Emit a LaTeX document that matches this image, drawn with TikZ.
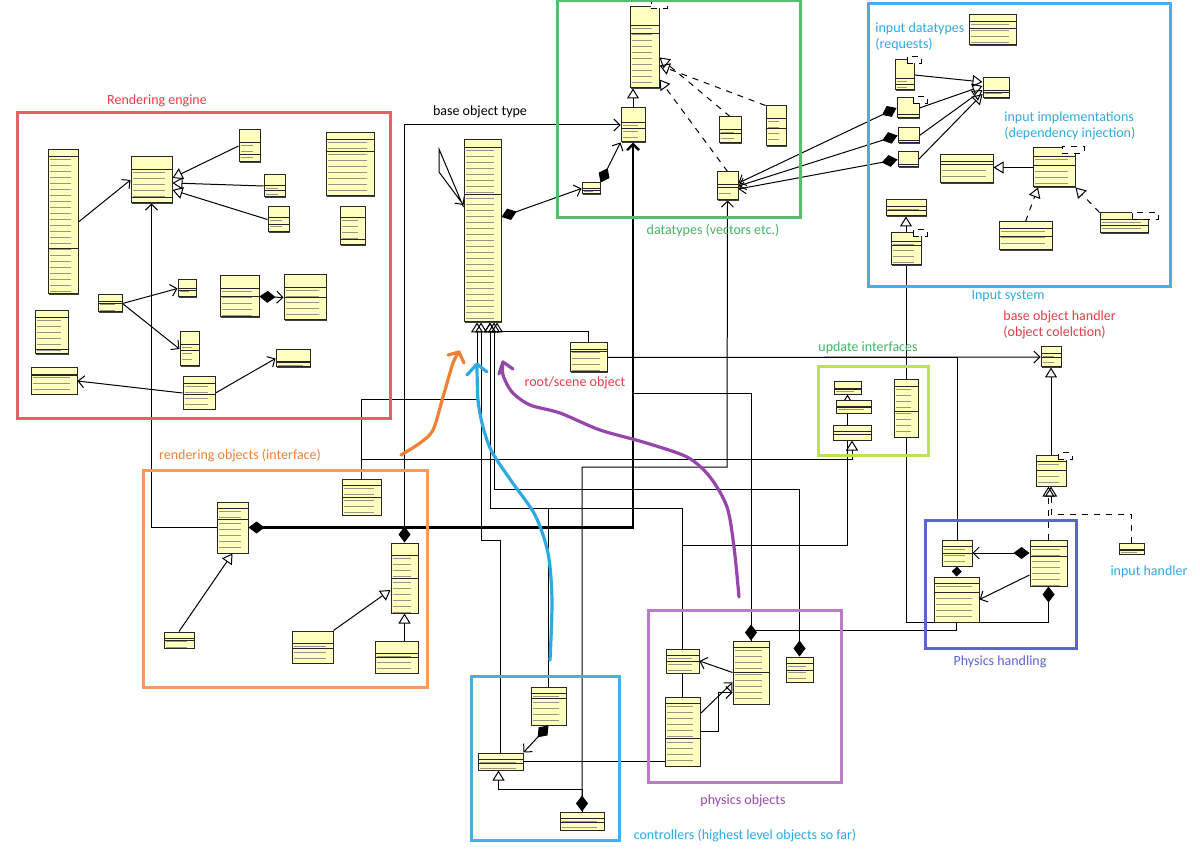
\documentclass[tikz,border=0pt]{standalone}
\usepackage{fontspec}
\setmainfont{Carlito}
\usetikzlibrary{arrows.meta,positioning,fit,calc,shadows,backgrounds}
\definecolor{clsfill}{RGB}{255,255,192}
\definecolor{clstext}{RGB}{150,150,130}
\definecolor{cRed}{RGB}{228,62,72}
\definecolor{cRedFrame}{RGB}{230,96,100}
\definecolor{cGreen}{RGB}{70,178,100}
\definecolor{cGreenFrame}{RGB}{88,190,110}
\definecolor{cBlue}{RGB}{48,168,226}
\definecolor{cBlueFrame}{RGB}{70,176,228}
\definecolor{cOrange}{RGB}{240,128,52}
\definecolor{cOrangeFrame}{RGB}{244,156,96}
\definecolor{cLime}{RGB}{186,226,84}
\definecolor{cPhys}{RGB}{92,100,206}
\definecolor{cPurple}{RGB}{150,70,170}
\definecolor{cPurpleFrame}{RGB}{186,124,200}

\begin{document}
\begin{tikzpicture}[x=0.5pt, y=-0.5pt,
  cls/.style 2 args={draw=black!85, line width=0.5pt, fill=clsfill, inner sep=0pt,
    drop shadow={shadow xshift=0.7pt, shadow yshift=-0.7pt, fill=black!75, opacity=1},
    path picture={
      \foreach \k in {1,...,30}
        \draw[clstext, line width=0.45pt] ([xshift=1pt, yshift=-#1-\k*3pt+1.4pt]path picture bounding box.north west) -- ([xshift=-3.5pt, yshift=-#1-\k*3pt+1.4pt]path picture bounding box.north east);
      \draw[line width=0.4pt] ([yshift=-#1]path picture bounding box.north west) -- ([yshift=-#1]path picture bounding box.north east);
      \draw[line width=0.4pt] ($(path picture bounding box.north west)!#2!(path picture bounding box.south west)$) -- ($(path picture bounding box.north east)!#2!(path picture bounding box.south east)$);}},
  tmpl/.style={draw, dashed, fill=white, inner sep=0pt, minimum height=3.5pt},
  frame/.style={draw, line width=1.5pt},
  lbl/.style={font=\fontsize{7}{8.4}\selectfont, inner sep=0pt},
  assoc/.style={-{Straight Barb[length=3pt,width=6pt]}, line width=0.5pt},
  inh/.style={-{Triangle[open,length=5pt,width=6pt]}, line width=0.5pt},
  dinh/.style={inh, dashed},
  comp/.style={{Diamond[length=8pt,width=6pt]}-{Straight Barb[length=3pt,width=6pt]}, line width=0.5pt},
  compl/.style={{Diamond[length=8pt,width=6pt]}-, line width=0.5pt},
  compi/.style={{Diamond[length=8pt,width=6pt]}-{Triangle[open,length=5pt,width=6pt]}, line width=0.5pt},
  hand/.style={line width=1.6pt, line cap=round, line join=round}
]
\useasboundingbox (0,0) rectangle (1200,861);

% base object and data types
\node[cls={3.5pt}{0.3}, fit={(464,140) (501,322)}] (baseobj) {};
\node[cls={9pt}{0.32}, fit={(630,7) (659,88)}] (dtmain) {};
\node[cls={7pt}{0.6}, fit={(621,108) (645,142)}] (vec) {};
\node[cls={2.5pt}{0.7}, fit={(582,183) (600,194)}] (dtsmall) {};
\node[cls={6pt}{0.65}, fit={(719,117) (741,143)}] (dtmid) {};
\node[cls={6pt}{0.55}, fit={(766,106) (786,146)}] (dtright) {};
\node[cls={6pt}{0.55}, fit={(717,172) (738,200)}] (dtlow) {};

% input system
\node[cls={3pt}{0.45}, fit={(969,15) (1016,45)}] (inmgr) {};
\node[cls={6pt}{0.7}, fit={(983,78) (1009,98)}] (req) {};
\node[cls={9pt}{0.8}, fit={(895,60) (914,90)}] (reqa) {};
\node[cls={8pt}{0.8}, fit={(897,98) (919,118)}] (reqb) {};
\node[cls={6pt}{0.8}, fit={(898,128) (919,143)}] (reqc) {};
\node[cls={6pt}{0.8}, fit={(898,152) (918,167)}] (reqd) {};
\node[cls={3pt}{0.35}, fit={(940,155) (993,183)}] (implbase) {};
\node[cls={4pt}{0.45}, fit={(1033,148) (1075,187)}] (impl) {};
\node[cls={3pt}{0.5}, fit={(999,222) (1052,250)}] (impla) {};
\node[cls={3pt}{0.6}, fit={(1100,213) (1148,233)}] (implb) {};
\node[cls={3pt}{0.65}, fit={(886,200) (926,216)}] (ininterface) {};
\node[cls={4pt}{0.4}, fit={(891,233) (921,265)}] (inuser) {};

% rendering engine
\node[cls={3pt}{0.68}, fit={(48,150) (78,294)}] (rtall) {};
\node[cls={6pt}{0.88}, fit={(131,157) (172,203)}] (renderer) {};
\node[cls={6pt}{0.75}, fit={(239,130) (260,162)}] (lighta) {};
\node[cls={5pt}{0.7}, fit={(264,175) (285,197)}] (lightb) {};
\node[cls={5pt}{0.7}, fit={(268,207) (289,232)}] (lightc) {};
\node[cls={3pt}{0.3}, fit={(326,133) (374,196)}] (rwin) {};
\node[cls={5pt}{0.85}, fit={(340,207) (365,245)}] (rview) {};
\node[cls={3pt}{0.9}, fit={(35,311) (68,354)}] (rcfg) {};
\node[cls={3pt}{0.3}, fit={(31,368) (77,394)}] (rlog) {};
\node[cls={3pt}{0.5}, fit={(98,295) (122,312)}] (rshader) {};
\node[cls={4pt}{0.6}, fit={(178,280) (196,297)}] (rtex) {};
\node[cls={6pt}{0.5}, fit={(220,276) (259,317)}] (rmat) {};
\node[cls={6pt}{0.5}, fit={(284,275) (326,320)}] (rmatb) {};
\node[cls={6pt}{0.55}, fit={(180,332) (199,366)}] (rfont) {};
\node[cls={6pt}{0.7}, fit={(276,350) (310,367)}] (rtextnode) {};
\node[cls={3pt}{0.55}, fit={(183,377) (215,409)}] (rcam) {};

% rendering objects
\node[cls={3pt}{0.35}, fit={(217,502) (248,553)}] (robj) {};
\node[cls={3pt}{0.5}, fit={(342,479) (381,515)}] (scrobj) {};
\node[cls={6pt}{0.5}, fit={(391,543) (418,613)}] (mesh) {};
\node[cls={3pt}{0.55}, fit={(164,632) (194,648)}] (rlight) {};
\node[cls={6pt}{0.55}, fit={(292,631) (333,663)}] (meshb) {};
\node[cls={6pt}{0.5}, fit={(375,641) (418,673)}] (meshc) {};

% scene root, update interfaces, handler
\node[cls={3pt}{0.3}, fit={(570,343) (607,372)}] (root) {};
\node[cls={3pt}{0.6}, fit={(834,382) (861,394)}] (upda) {};
\node[cls={3pt}{0.6}, fit={(836,400) (871,413)}] (updb) {};
\node[cls={3pt}{0.6}, fit={(833,425) (871,440)}] (updc) {};
\node[cls={3pt}{0.55}, fit={(894,380) (918,437)}] (updd) {};
\node[cls={3pt}{0.5}, fit={(1041,347) (1061,367)}] (handler) {};
\node[cls={3pt}{0.5}, fit={(1036,455) (1066,486)}] (objlist) {};
\node[cls={3pt}{0.7}, fit={(1119,543) (1144,554)}] (inhandler) {};

% physics
\node[cls={3pt}{0.5}, fit={(942,540) (972,566)}] (phA) {};
\node[cls={3pt}{0.35}, fit={(934,577) (979,622)}] (phB) {};
\node[cls={3pt}{0.35}, fit={(1030,540) (1067,586)}] (phC) {};
\node[cls={3pt}{0.5}, fit={(666,649) (699,673)}] (poA) {};
\node[cls={3pt}{0.6}, fit={(665,697) (700,766)}] (poB) {};
\node[cls={3pt}{0.5}, fit={(733,641) (769,704)}] (poC) {};
\node[cls={3pt}{0.55}, fit={(786,657) (813,682)}] (poD) {};

% controllers
\node[cls={3pt}{0.3}, fit={(531,687) (566,725)}] (ctA) {};
\node[cls={3pt}{0.6}, fit={(478,753) (523,770)}] (ctB) {};
\node[cls={3pt}{0.6}, fit={(560,812) (604,830)}] (ctC) {};

% template markers
\node[tmpl, minimum width=8pt] (dtmainT) at (659,5) {};
\node[tmpl, minimum width=7pt] (reqaT) at (914,60) {};
\node[tmpl, minimum width=7pt] (reqbT) at (920,100) {};
\node[tmpl, minimum width=11pt] (implT) at (1073,150) {};
\node[tmpl, minimum width=13pt] (implbT) at (1145,216) {};
\node[tmpl, minimum width=7pt] (inuserT) at (920,233) {};
\node[tmpl, minimum width=7pt] (objlistT) at (1065,456) {};

\begin{scope}[on background layer]
% rendering engine
\draw[assoc] (rtall.east) -- (renderer.west);
\draw[inh] (lighta.west) -- ([yshift=1pt]renderer.east);
\draw[inh] (lightb.west) -- ([yshift=-1.5pt]renderer.east);
\draw[inh] (lightc.west) -- ([yshift=-5pt]renderer.east);
\draw[assoc] (rshader.east) -- (rtex.west);
\draw[assoc] (rshader.east) -- (rfont.west);
\draw[comp] (rmat.east) -- (rmatb.west);
\draw[assoc] (rcam.west) -- (rlog.east);
\draw[assoc] (rcam.east) -- (rtextnode.west);
\draw[assoc] (robj.west) -| (renderer.south);
% rendering objects
\draw[inh] (rlight.north) -- (robj.south);
\draw[inh] (meshb.north east) -- ([yshift=-6pt]mesh.west);
\draw[inh] (mesh.south |- meshc.north) -- (mesh.south);
\draw[comp, line width=1.2pt] (robj.east) -| (vec.south);
\draw[comp] (mesh.north) |- (vec.west);
\draw[inh] (scrobj.north) |- (477,399) -- ([xshift=-2.75pt]baseobj.south);
\draw[inh] (scrobj.north) -- ++(0,-19) -| (updc.south);
% base object and data types
\draw[assoc] ([yshift=12pt]baseobj.west) -- (439,149) -- (439,172) -- ([yshift=13pt]baseobj.west);
\draw[comp] ([yshift=7pt]baseobj.east) -- (dtsmall.west);
\draw[comp] (dtsmall.north east) -- (vec.south west);
\draw[inh] (vec.north) -- (vec.north |- dtmain.south);
\draw[dinh] (dtmid.north) -- ([yshift=-5pt]dtmain.east);
\draw[dinh] (dtright.north west) -- ([yshift=-9pt]dtmain.east);
\draw[dinh] (dtlow.north) -- ([yshift=-16pt]dtmain.east);
% input system
\draw[inh] (reqa.east) -- ([yshift=3pt]req.west);
\draw[inh] (reqb.east) -- ([yshift=1pt]req.west);
\draw[inh] (reqc.east) -- ([yshift=-1pt]req.west);
\draw[inh] (reqd.east) -- ([yshift=-3pt]req.west);
\draw[comp] (reqb.west) -- ([yshift=1.5pt]dtlow.east);
\draw[comp] (reqc.west) -- (dtlow.east);
\draw[comp] (reqd.west) -- ([yshift=-1.5pt]dtlow.east);
\draw[inh] (impl.west) -- (impl.west -| implbase.east);
\draw[dinh] (impla.north) -- ([xshift=-8pt]impl.south);
\draw[dinh] (implb.north west) -- (impl.south east);
\draw[inh] (inuser.north) -- (ininterface.south);
% scene root, handler, physics
\draw[inh] (root.north) |- (497,332) -- ([xshift=7.25pt]baseobj.south);
\draw[assoc] (root.east) -- (handler.west);
\draw (phA.north) |- (root.east);
\draw[inh] (objlist.north) -- (handler.south);
\draw[dinh] (phC.north) -- (phC.north |- objlist.south);
\draw[dinh] (inhandler.north) -- ++(0,-28) -| (objlist.south);
\draw[comp] ([yshift=5pt]phC.west) -- (phA.east);
\draw[assoc] ([yshift=-6pt]phC.west) -- (phB.east);
\draw[{Diamond[length=5pt,width=5pt]}-] (phB.north) -- (phA.south);
\draw[compl] (phC.south) -- ++(0,36) -| (inuser.south);
\draw[compl] (poC.north) -- ++(0,-10) -| (phB.south);
\draw (poC.north) -- ++(0,-247) -| (vec.south);
\draw[compi] (poD.north) |- (494,489) -- ([xshift=5.75pt]baseobj.south);
\draw[inh] (poB.north) |- (490,508) -- ([xshift=3.75pt]baseobj.south);
\draw[inh] (poB.north) -- ++(0,-151) -| (upda.south);
\draw[assoc] (poC.west) -- (poA.east);
\draw[assoc] ([yshift=9pt]poB.east) -- ([yshift=-5pt]poC.west);
\draw[assoc] (poB.east) -- ++(18,0) |- ([yshift=-10pt]poC.west);
% controllers
\draw[inh] (ctA.north) |- (490,508) -- ([xshift=3.75pt]baseobj.south);
\draw[inh] (ctB.north) |- (481,540) -- ([xshift=-0.75pt]baseobj.south);
\draw[comp] (ctA.south) -- (ctB.north east);
\draw[inh] (ctC.north) -- ++(0,-22) -| ([xshift=-1pt]ctB.south);
\draw[comp] (ctC.north) |- (727,467) -- (dtlow.south);
\draw (ctB.east) -- (ctB.east -| poB.west);
\end{scope}

% group frames
\draw[frame, cRedFrame] (17,113) rectangle (390,418);
\draw[frame, cGreenFrame] (557,1) rectangle (800,218);
\draw[frame, cBlueFrame] (868,4) rectangle (1170,287);
\draw[frame, cLime] (818,367) rectangle (928,455);
\draw[frame, cOrangeFrame] (143,470) rectangle (427,687);
\draw[frame, cPhys] (925,520) rectangle (1076,648);
\draw[frame, cPurpleFrame] (648,610) rectangle (841,782);
\draw[frame, cBlueFrame] (471,676) rectangle (619,840);

% labels
\node[lbl, text=cRed] (lblrender) at (157,101) {Rendering engine};
\node[lbl] (lblbase) at (480,112) {base object type};
\node[lbl, text=cGreen] (lbldata) at (713,231) {datatypes (vectors etc.)};
\node[lbl, text=cBlue, align=left, anchor=north west] (lblreq) at (875,22) {input datatypes\\(requests)};
\node[lbl, text=cBlue, align=left, anchor=north west] (lblimpl) at (1004,111) {input implementations\\(dependency injection)};
\node[lbl, text=cBlue] (lblinput) at (1008,296) {Input system};
\node[lbl, text=cRed, align=left, anchor=north west] (lblhandler) at (1003,310) {base object handler\\(object colelction)};
\node[lbl, text=cGreen] (lblupdate) at (868,348) {update interfaces};
\node[lbl, text=cRed] (lblroot) at (575,383) {root/scene object};
\node[lbl, text=cOrange] (lblrobj) at (240,456) {rendering objects (interface)};
\node[lbl, text=cBlue] (lblinhandler) at (1149,572) {input handler};
\node[lbl, text=cPhys] (lblphys) at (1000,662) {Physics handling};
\node[lbl, text=cPurple] (lblpobj) at (743,801) {physics objects};
\node[lbl, text=cBlue] (lblctrl) at (745,836) {controllers (highest level objects so far)};

% hand-drawn pointers to the base object
\draw[hand, cOrange] plot[smooth] coordinates {(401,455) (420,443) (433,430) (443,397) (453,363) (459,352)};
\draw[hand, cOrange] (448,355) -- (459,352) -- (464,363);
\draw[hand, cBlue] plot[smooth] coordinates {(550,660) (552,600) (548,553) (535,515) (512,482) (492,452) (483,427) (478,400) (477,365)};
\draw[hand, cBlue] (467,375) -- (477,364) -- (487,372);
\draw[hand, cPurple] plot[smooth] coordinates {(739,597) (734,547) (727,507) (710,477) (687,457) (643,442) (600,430) (560,413) (530,405) (512,392) (503,375) (503,362)};
\draw[hand, cPurple] (499,374) -- (503,362) -- (513,369);
\end{tikzpicture}
\end{document}
